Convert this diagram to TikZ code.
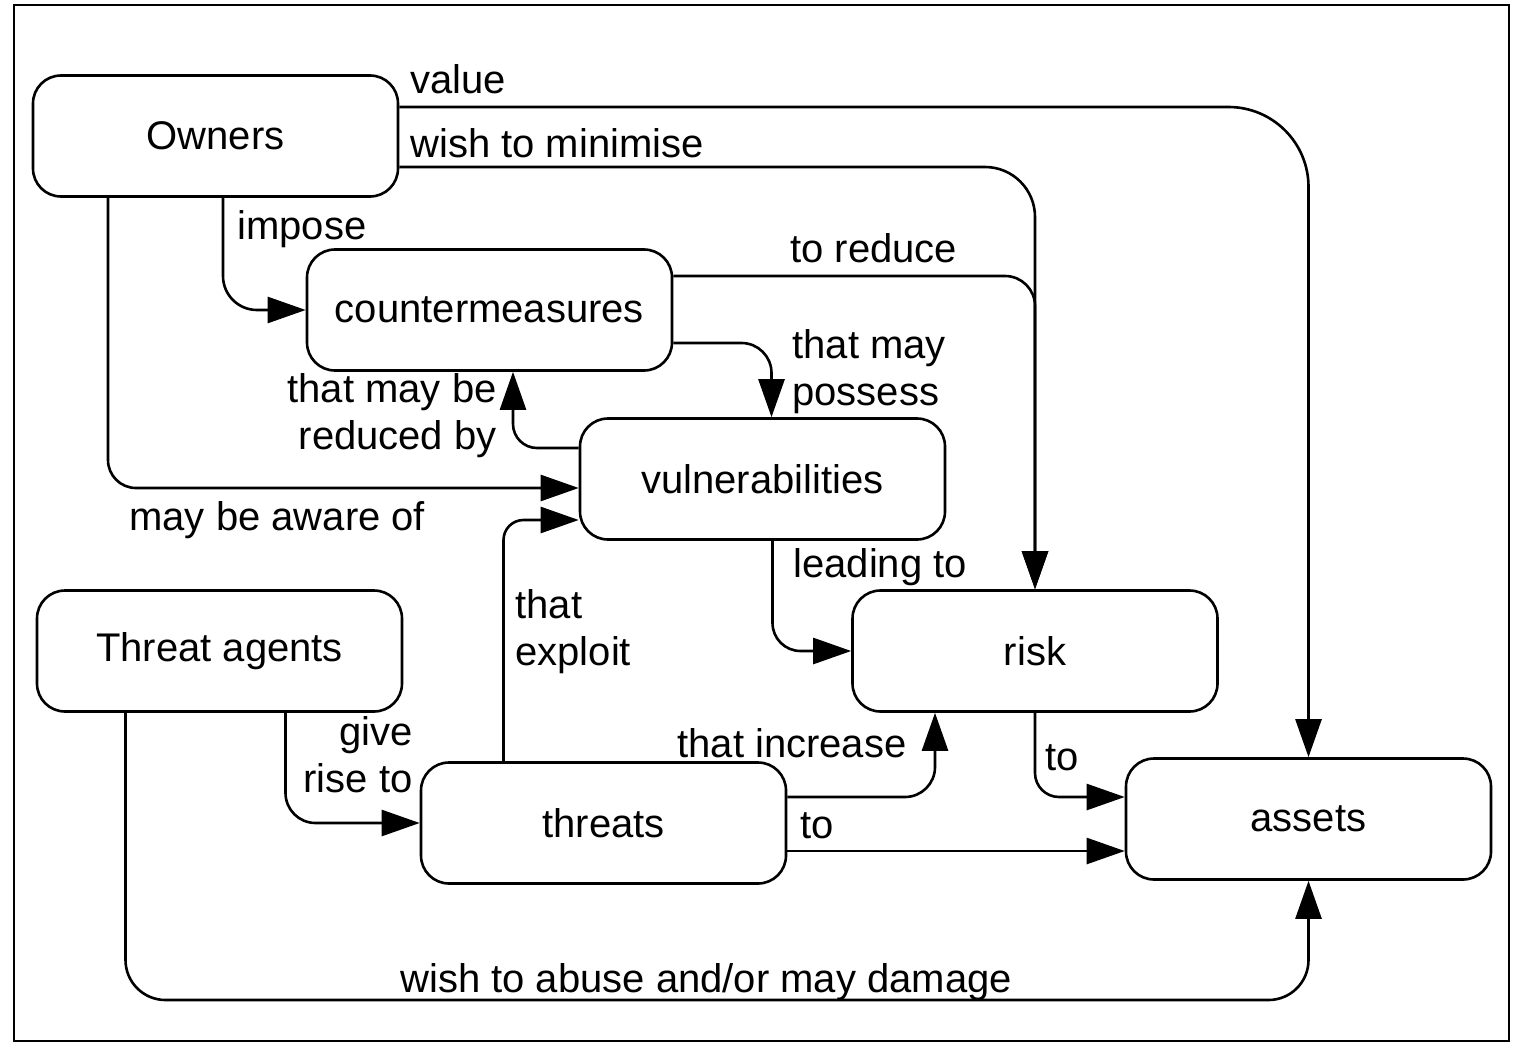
\documentclass[tikz,border=0pt]{standalone}
\usepackage{fontspec}
\setmainfont{Liberation Sans}
\usetikzlibrary{arrows.meta}

\begin{document}
\begin{tikzpicture}[x=0.5pt, y=-0.5pt,
  font=\fontsize{20}{23.5}\selectfont,
  box/.style={draw, rounded corners=14pt, minimum width=182.5pt, minimum height=60.5pt,
              line width=1.3pt},
  flow/.style={-{Triangle[length=19pt,width=13pt]}, line width=1.3pt},
  lbl/.style={inner sep=0pt}]
  \useasboundingbox (0,0) rectangle (1519,1043);
  \draw[line width=1.3pt] (14,5) rectangle (1509,1041);
  % boxes
  \node[box] (owners)  at (215.5,136) {Owners};
  \node[box] (cm)      at (489.5,310) {countermeasures};
  \node[box] (vuln)    at (762.5,479) {vulnerabilities};
  \node[box] (tagents) at (219.5,651) {Threat agents};
  \node[box] (risk)    at (1035,651)  {risk};
  \node[box] (threats) at (603.5,823) {threats};
  \node[box] (assets)  at (1308.5,819) {assets};
  % connectors
  \draw[flow, rounded corners=40pt] ([yshift=14.5pt]owners.east) -| (assets.north);
  \draw[flow, rounded corners=25pt] ([yshift=-15.5pt]owners.east) -| (risk.north);
  \draw[flow, rounded corners=17pt] ([xshift=3.75pt]owners.south) |- (cm.west);
  \draw[flow, rounded corners=14pt] ([xshift=-53.75pt]owners.south) |- ([yshift=-4.5pt]vuln.west);
  \draw[flow, rounded corners=15pt] ([yshift=17pt]cm.east) -| (risk.north);
  \draw[flow, rounded corners=15pt] ([yshift=-16.5pt]cm.east) -| ([xshift=4.5pt]vuln.north);
  \draw[flow, rounded corners=12pt] ([yshift=15.5pt]vuln.west) -| ([xshift=11.75pt]cm.south);
  \draw[flow, rounded corners=14pt] ([xshift=5pt]vuln.south) |- (risk.west);
  \draw[flow, rounded corners=10pt] ([xshift=-50pt]threats.north) |- ([yshift=-20.5pt]vuln.west);
  \draw[flow, rounded corners=15pt] ([xshift=33pt]tagents.south) |- (threats.west);
  \draw[flow, rounded corners=15pt] ([yshift=13pt]threats.east) -| ([xshift=-50pt]risk.south);
  \draw[flow] ([yshift=-14pt]threats.east) -- ([yshift=-16pt]assets.west);
  \draw[flow, rounded corners=12pt] (risk.south) |- ([yshift=11pt]assets.west);
  \coordinate (abuse) at (700,1000);
  \draw[flow, rounded corners=20pt] ([xshift=-47pt]tagents.south) |- (abuse) -| (assets.south);
  % labels
  \node[lbl, anchor=base west] (lvalue)    at (410,94)  {value};
  \node[lbl, anchor=base west] (lminimise) at (410,158) {wish to minimise};
  \node[lbl, anchor=base west] (limpose)   at (237,240) {impose};
  \node[lbl, anchor=base west] (lreduce)   at (790,263) {to reduce};
  \node[lbl, anchor=base west, align=left]  (lpossess)   at (792,405) {that may\\possess};
  \node[lbl, anchor=base east, align=right] (lreducedby) at (497,449) {that may be\\reduced by};
  \node[lbl, anchor=base west] (laware)    at (129,530) {may be aware of};
  \node[lbl, anchor=base west] (lleading)  at (793,577) {leading to};
  \node[lbl, anchor=base west, align=left]  (lexploit)   at (515,665) {that\\exploit};
  \node[lbl, anchor=base east, align=right] (lgive)      at (413,792) {give\\rise to};
  \node[lbl, anchor=base west] (lincrease) at (677,757) {that increase};
  \node[lbl, anchor=base west] (lto1)      at (1045,770) {to};
  \node[lbl, anchor=base west] (lto2)      at (800,838) {to};
  \node[lbl, anchor=base west] (labuse)    at (400,992) {wish to abuse and/or may damage};
\end{tikzpicture}
\end{document}
